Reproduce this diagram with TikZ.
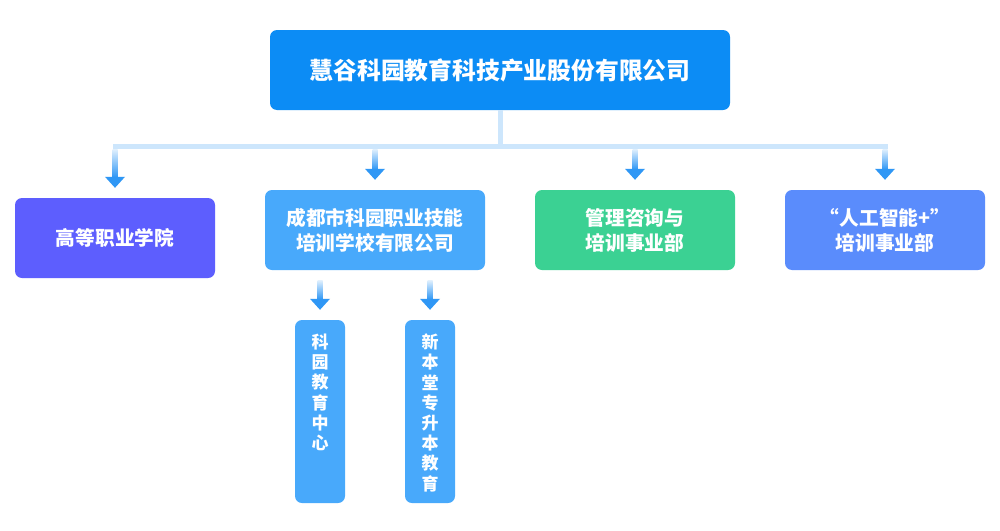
\documentclass[tikz,border=0pt]{standalone}
\usepackage{fontspec}
\setmainfont{Noto Sans CJK SC}
\usetikzlibrary{calc}
\definecolor{rootc}{HTML}{0C8CF5}
\definecolor{bonec}{HTML}{5D5EFE}
\definecolor{btwoc}{HTML}{48A9FB}
\definecolor{bthreec}{HTML}{3BD193}
\definecolor{bfourc}{HTML}{5A8CFC}
\definecolor{barc}{HTML}{CDE6FC}
\definecolor{arrc}{HTML}{2F97F5}
\definecolor{shadc}{HTML}{3A4A60}
\pgfdeclarelayer{bg}
\pgfsetlayers{bg,main}
\newcommand{\gconn}[2]{%
  \path (#2.north |- #1) coordinate (gs) (#2.north) coordinate (gt);
  \shade[top color=barc!60, bottom color=arrc] ($(gs)+(-2.5,0)$) rectangle ($(gt)+(2.5,-20.5)$);
  \fill[arrc] ($(gt)+(-10,-21)$) -- ($(gt)+(10,-21)$) -- ($(gt)+(0,-10)$) -- cycle;
}
\newcommand{\softshadow}[1]{%
  \begin{pgfonlayer}{bg}
  \foreach \r in {0,1,...,9} {
    \pgfmathsetmacro{\rc}{7+\r}
    \fill[shadc, opacity=0.022, rounded corners=\rc pt]
      ($(#1.south west)+(-\r+2,\r+5)$) rectangle ($(#1.north east)+(\r-2,-\r+5)$);
  }
  \end{pgfonlayer}
}
\begin{document}
\begin{tikzpicture}[x=1pt,y=-1pt,
  box/.style={rounded corners=7pt, text=white, align=center, inner sep=0pt},
  lvltwo/.style={box, minimum width=200, minimum height=80, font=\fontsize{19.7}{25}\selectfont\bfseries},
  subbox/.style={box, minimum width=50, minimum height=183},
  subtext/.style={text=white, align=center, inner sep=0pt, font=\fontsize{17}{20.2}\selectfont\bfseries},
  barline/.style={draw=barc, line width=5pt}]
\useasboundingbox[fill=white] (0,0) rectangle (1000,530);
\node[box, fill=rootc, minimum width=460, minimum height=80, font=\fontsize{23.8}{28}\selectfont\bfseries] (root) at (500,70) {慧谷科园教育科技产业股份有限公司};
\node[lvltwo, fill=bonec] (b1) at (115,238) {高等职业学院};
\node[lvltwo, fill=btwoc, minimum width=220] (b2) at (375,230) {成都市科园职业技能\\培训学校有限公司};
\node[lvltwo, fill=bthreec] (b3) at (635,230) {管理咨询与\\培训事业部};
\node[lvltwo, fill=bfourc] (b4) at (885,230) {“人工智能+”\\培训事业部};
\node[subbox, fill=btwoc] (s1) at (320,411.5) {};
\node[subbox, fill=btwoc] (s2) at (430,411.5) {};
\node[subtext, anchor=north] (t1) at ($(s1.north)+(0,14)$) {科\\园\\教\\育\\中\\心};
\node[subtext, anchor=north] (t2) at ($(s2.north)+(0,14)$) {新\\本\\堂\\专\\升\\本\\教\\育};
\softshadow{root}
\softshadow{b1}
\softshadow{b2}
\softshadow{b3}
\softshadow{b4}
\softshadow{s1}
\softshadow{s2}
% connectors
\coordinate (bar) at (500,146.5);
\coordinate (barb) at (500,149);
\draw[barline] (root.south) -- (bar);
\draw[barline, line cap=rect] (b1.north |- bar) -- (b4.north |- bar);
\gconn{barb}{b1}
\gconn{barb}{b2}
\gconn{barb}{b3}
\gconn{barb}{b4}
\coordinate (sub) at ($(b2.south)+(0,10)$);
\gconn{sub}{s1}
\gconn{sub}{s2}
\end{tikzpicture}
\end{document}
